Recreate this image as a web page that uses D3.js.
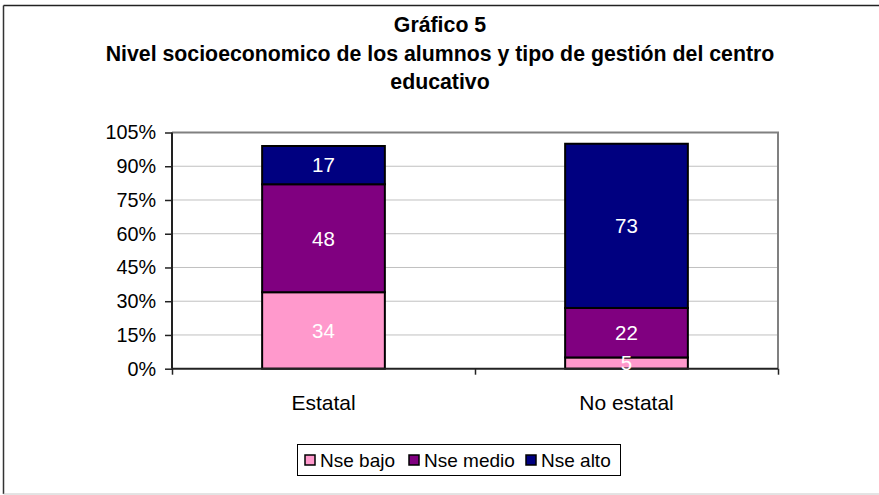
<!DOCTYPE html>
<html lang="es">
<head>
    <meta charset="UTF-8">
    <title>Gráfico 5</title>
    <script src="https://d3js.org/d3.v7.min.js"></script>
    <style>
        body {
            margin: 0;
            background: #fff;
        }
        text {
            font-family: Arial, "Liberation Sans", sans-serif;
        }
    </style>
</head>
<body>
<script>
    // data
    var categories = ["Estatal", "No estatal"];
    var seriesNames = ["Nse bajo", "Nse medio", "Nse alto"];
    var nseBajo = [34, 5];
    var nseMedio = [48, 22];
    var nseAlto = [17, 73];
    var yTicks = [0, 15, 30, 45, 60, 75, 90, 105];
    var titleLines = ["Gráfico 5", "Nivel socioeconomico de los alumnos y tipo de gestión del centro", "educativo"];

    var colors = ["#FF99CC", "#800080", "#000080"];

    var width = 879, height = 495;
    var plot = {left: 172, right: 778, top: 132.5, bottom: 368.7};

    var svg = d3.select("body").append("svg")
        .attr("width", width)
        .attr("height", height)
        .style("display", "block");

    // chart frame
    svg.append("line").attr("x1", 3.5).attr("x2", 3.5).attr("y1", 5.5).attr("y2", 494)
        .attr("stroke", "#333").attr("stroke-width", 1.5);
    svg.append("line").attr("x1", 3.5).attr("x2", 879).attr("y1", 5.5).attr("y2", 5.5)
        .attr("stroke", "#222").attr("stroke-width", 1.5);
    svg.append("line").attr("x1", 3.5).attr("x2", 879).attr("y1", 494).attr("y2", 494)
        .attr("stroke", "#c8c8c8").attr("stroke-width", 1);

    // title
    svg.append("g").selectAll("text").data(titleLines).join("text")
        .attr("x", 440)
        .attr("y", (d, i) => 32 + i * 28.5)
        .attr("text-anchor", "middle")
        .attr("font-size", "21.3px")
        .attr("font-weight", "bold")
        .attr("fill", "#000")
        .text(d => d);

    var x = d3.scaleBand()
        .domain(categories)
        .range([plot.left, plot.right])
        .paddingInner(0.595)
        .paddingOuter(0.2975);

    var y = d3.scaleLinear()
        .domain([0, 105])
        .range([plot.bottom, plot.top]);

    // gridlines
    svg.append("g").selectAll("line").data(yTicks.filter(d => d > 0 && d < 105)).join("line")
        .attr("x1", plot.left).attr("x2", plot.right)
        .attr("y1", d => y(d)).attr("y2", d => y(d))
        .attr("stroke", "#c0c0c0").attr("stroke-width", 1);

    // plot area border (top and right)
    svg.append("path")
        .attr("d", "M" + plot.left + "," + y(105) + "H" + plot.right + "V" + plot.bottom)
        .attr("fill", "none").attr("stroke", "#808080").attr("stroke-width", 2);

    // stacked bars
    var table = categories.map((c, i) => ({cat: c, "Nse bajo": nseBajo[i], "Nse medio": nseMedio[i], "Nse alto": nseAlto[i]}));
    var stacked = d3.stack().keys(seriesNames)(table);

    var layers = svg.append("g").selectAll("g").data(stacked).join("g")
        .attr("fill", (d, i) => colors[i]);

    layers.selectAll("rect").data(d => d).join("rect")
        .attr("x", d => x(d.data.cat))
        .attr("width", x.bandwidth())
        .attr("y", d => y(d[1]))
        .attr("height", d => y(d[0]) - y(d[1]))
        .attr("stroke", "#000")
        .attr("stroke-width", 2);

    // axes
    var leftAxis = d3.axisLeft(y)
        .tickValues(yTicks)
        .tickSize(7)
        .tickPadding(9)
        .tickFormat(d => d + "%");
    var gy = svg.append("g")
        .attr("transform", "translate(" + plot.left + ",0)")
        .call(leftAxis);
    gy.select(".domain").attr("stroke", "#222").attr("stroke-width", 2).attr("d", "M0," + plot.top + "V" + plot.bottom);
    gy.selectAll(".tick line").attr("stroke", "#222").attr("stroke-width", 1.5);
    gy.selectAll(".tick text")
        .attr("font-size", "19.8px")
        .attr("font-family", "Arial, 'Liberation Sans', sans-serif")
        .attr("fill", "#000");

    var bottomAxis = d3.axisBottom(d3.scaleLinear().domain([0, 2]).range([plot.left, plot.right]))
        .tickValues([0, 1, 2])
        .tickSize(6)
        .tickFormat("");
    var gx = svg.append("g")
        .attr("transform", "translate(0," + plot.bottom + ")")
        .call(bottomAxis);
    gx.select(".domain").attr("stroke", "#222").attr("stroke-width", 2).attr("d", "M" + plot.left + ",0H" + plot.right);
    gx.selectAll(".tick line").attr("stroke", "#222").attr("stroke-width", 1.5);

    // data labels drawn on top of everything
    svg.append("g").selectAll("g").data(stacked).join("g")
        .selectAll("text").data(d => d).join("text")
        .attr("x", d => x(d.data.cat) + x.bandwidth() / 2)
        .attr("y", d => (y(d[0]) + y(d[1])) / 2)
        .attr("dy", "0.36em")
        .attr("text-anchor", "middle")
        .attr("font-size", "20.5px")
        .attr("fill", "#fff")
        .text(d => d[1] - d[0]);

    svg.append("g").selectAll("text").data(categories).join("text")
        .attr("x", d => x(d) + x.bandwidth() / 2)
        .attr("y", 410)
        .attr("text-anchor", "middle")
        .attr("font-size", "21px")
        .attr("fill", "#000")
        .text(d => d);

    // legend
    var legend = svg.append("g");
    legend.append("rect")
        .attr("x", 297.5).attr("y", 444.5)
        .attr("width", 323).attr("height", 31)
        .attr("fill", "#fff").attr("stroke", "#000").attr("stroke-width", 1);

    var legendX = [305, 409, 526];
    var items = legend.selectAll("g.item").data(seriesNames).join("g")
        .attr("class", "item")
        .attr("transform", (d, i) => "translate(" + legendX[i] + ",460)");
    items.append("rect")
        .attr("x", 0).attr("y", -5)
        .attr("width", 10).attr("height", 10)
        .attr("fill", (d, i) => colors[i])
        .attr("stroke", "#000").attr("stroke-width", 1.5);
    items.append("text")
        .attr("x", 15)
        .attr("y", 0)
        .attr("dy", "0.36em")
        .attr("font-size", "19px")
        .attr("fill", "#000")
        .text(d => d);
</script>
</body>
</html>
